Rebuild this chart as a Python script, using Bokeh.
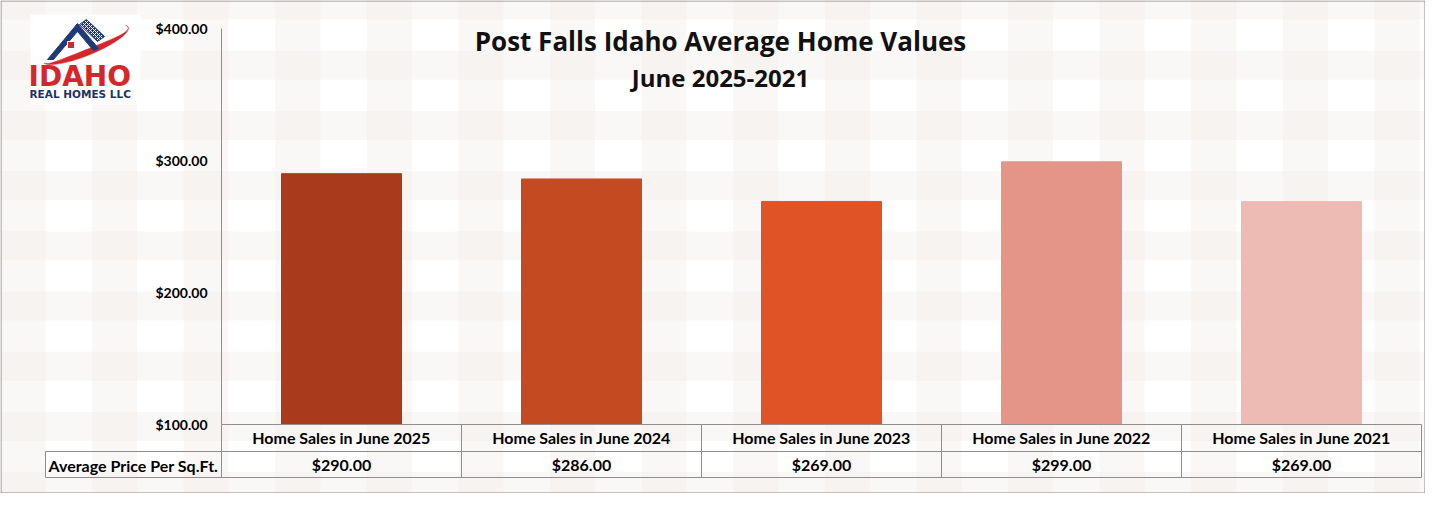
import numpy as np
from bokeh.plotting import figure
from bokeh.layouts import column
from bokeh.models import (Range1d, FixedTicker, NumeralTickFormatter, CategoricalAxis, ColumnDataSource,
                          CustomJSTickFormatter)
from bokeh.core.properties import value
from bokeh.embed import file_html
from bokeh.resources import INLINE

# ---------------- data ----------------
categories = ["Home Sales in June 2025", "Home Sales in June 2024", "Home Sales in June 2023",
              "Home Sales in June 2022", "Home Sales in June 2021"]
price_per_sqft = [290.00, 286.00, 269.00, 299.00, 269.00]
bar_colors = ["#A93A1C", "#C44A22", "#E05326", "#E59488", "#EDBAB4"]
y_ticks = [100, 200, 300, 400]
y_min, y_max = 100, 400
row_header = "Average Price Per Sq.Ft."
title_text = "Post Falls Idaho Average Home Values"
subtitle_text = "June 2025-2021"

# ---------------- layout (canvas px, top-down) ----------------
W, H = 1425, 493
FL, FR, FT, FB = 221, 1421, 28, 424
ROW1_B, ROW2_B = 451, 477
TABLE_LEFT = 45
GRID = "#8E8E8E"
BG = "#FFFFFF"
FONT = "Lato"

# ================= background / decoration layer =================
bg = figure(width=W, height=H, x_range=Range1d(0, W), y_range=Range1d(H, 0), title=None,
            min_border_left=0, min_border_right=0, min_border_top=0, min_border_bottom=0,
            x_axis_type=None, y_axis_type=None, output_backend="svg", toolbar_location=None)
bg.background_fill_color = BG
bg.border_fill_color = "#F8F7F4"
bg.outline_line_color = None
bg.frame_align = False

# gingham pattern
vx = np.arange(0, W, 91.6)
bg.quad(left=vx, right=vx + 45, top=0, bottom=H, fill_color="#EDE9E3", fill_alpha=0.3, line_color=None)
hy = np.arange(-10, H, 60.2)
bg.quad(left=0, right=W, top=hy, bottom=hy + 29, fill_color="#EDE9E3", fill_alpha=0.3, line_color=None)

# table grid lines
n = len(categories)
cw = (FR - FL) / n
sx0 = [TABLE_LEFT, TABLE_LEFT, TABLE_LEFT] + [FL + cw * k for k in range(n + 1)]
sx1 = [FR, FR, TABLE_LEFT] + [FL + cw * k for k in range(n + 1)]
sy0 = [ROW1_B, ROW2_B, ROW1_B] + [FB] * (n + 1)
sy1 = [ROW1_B, ROW2_B, ROW2_B] + [ROW2_B] * (n + 1)
bg.segment(x0=sx0, y0=sy0, x1=sx1, y1=sy1, line_color=GRID, line_width=1)

bg.text(x=[TABLE_LEFT + 3], y=[(ROW1_B + ROW2_B) / 2 + 0.5], text=[row_header], text_align="left",
        text_baseline="middle", text_font=value(FONT), text_font_style="bold",
        text_font_size="16px", text_color="#000000")

# titles
bg.text(x=[720], y=[40], text=[title_text], text_align="center", text_baseline="middle",
        text_font=value("Open Sans"), text_font_style="bold", text_font_size="26px", text_color="#111111")
bg.text(x=[720], y=[77], text=[subtitle_text], text_align="center", text_baseline="middle",
        text_font=value("Open Sans"), text_font_style="bold", text_font_size="24px", text_color="#111111")

# logo (decoration)
bg.quad(left=[30], right=[140], top=[14], bottom=[104], fill_color="#FFFFFF", line_color=None)
cx, cy, rx, ry, th = 85, 44, 46, 11, np.deg2rad(-22)
t = np.deg2rad(np.linspace(170, -15, 40))
def ell(tt, rry):
    x = cx + rx * np.cos(tt) * np.cos(th) - rry * np.sin(tt) * np.sin(th)
    y = cy + rx * np.cos(tt) * np.sin(th) + rry * np.sin(tt) * np.cos(th)
    return x, y
ox_, oy_ = ell(t, ry)
thick = 6 * np.sin(np.pi * np.linspace(0, 1, 40) ** 0.8)
ix_, iy_ = ell(t, ry - thick)
bg.patch(x=np.concatenate([ox_, ix_[::-1]]), y=np.concatenate([oy_, iy_[::-1]]),
         fill_color="#D7262B", line_color="#D7262B", line_width=0.5)
roof_x = [47, 77, 98, 93, 77, 53]
roof_y = [59, 23, 48, 50, 31, 59]
bg.patch(x=roof_x, y=roof_y, fill_color="#1E3A78", line_color="#1E3A78")
bg.patch(x=[79, 86, 104, 97], y=[24, 19, 36, 41], fill_color="#1E3A78", line_color="#1E3A78",
         hatch_pattern="x", hatch_color="#FFFFFF", hatch_scale=4, hatch_weight=1)
bg.quad(left=[67], right=[74], top=[41], bottom=[48], fill_color="#D7262B", line_color="#FFFFFF", line_width=1)
bg.text(x=[28], y=[76], text=["IDAHO"], text_align="left", text_baseline="middle",
        text_font=value("DejaVu Sans"), text_font_style="bold", text_font_size="28px", text_color="#D7262B")
bg.text(x=[29], y=[93.4], text=["REAL HOMES LLC"], text_align="left", text_baseline="middle",
        text_font=value("DejaVu Sans"), text_font_style="bold", text_font_size="10.5px", text_color="#1E3366")

# outer border
bg.quad(left=[0.5], right=[W - 0.5], top=[0.5], bottom=[H - 0.5], fill_alpha=0,
        line_color="#8A8A8A", line_width=1)

# ================= chart layer =================
p = figure(x_range=categories, y_range=Range1d(y_min, y_max), width=W, height=H, title=None,
           output_backend="svg", toolbar_location=None,
           min_border_left=FL, min_border_right=W - FR, min_border_top=FT, min_border_bottom=H - FB,
           margin=(-H, 0, 0, 0))
p.frame_align = False
p.background_fill_alpha = 0
p.border_fill_alpha = 0
p.outline_line_color = None
p.xgrid.visible = False
p.ygrid.visible = False

src = ColumnDataSource(dict(cat=categories, val=price_per_sqft, color=bar_colors))
p.vbar(x="cat", top="val", bottom=y_min, width=0.5, color="color", source=src)

ya = p.yaxis[0]
ya.ticker = FixedTicker(ticks=y_ticks)
ya.formatter = NumeralTickFormatter(format="$0,0.00")
ya.axis_line_color = GRID
ya.major_tick_in = 0
ya.major_tick_out = 0
ya.minor_tick_line_color = None
ya.major_tick_line_color = None
ya.major_label_standoff = 14
ya.major_label_text_font = FONT
ya.major_label_text_font_style = "bold"
ya.major_label_text_font_size = "14px"
ya.major_label_text_color = "#000000"

def style_x(ax, standoff, line_color):
    ax.axis_line_color = line_color
    ax.major_tick_in = 0
    ax.major_tick_out = 0
    ax.major_tick_line_color = None
    ax.minor_tick_line_color = None
    ax.major_label_standoff = standoff
    ax.major_label_text_font = FONT
    ax.major_label_text_font_style = "bold"
    ax.major_label_text_font_size = "16px"
    ax.major_label_text_color = "#000000"

# table row 1: category names
style_x(p.xaxis[0], 3, GRID)
# table row 2: values, formatted from the data
value_labels = [f"${v:,.2f}" for v in price_per_sqft]
value_axis = CategoricalAxis(formatter=CustomJSTickFormatter(
    args=dict(cats=categories, labs=value_labels),
    code="const i = cats.indexOf(tick); return i >= 0 ? labs[i] : tick;"))
style_x(value_axis, 5, None)
p.add_layout(value_axis, "below")

layout = column(bg, p)
open("out.html", "w").write(file_html(layout, INLINE))
